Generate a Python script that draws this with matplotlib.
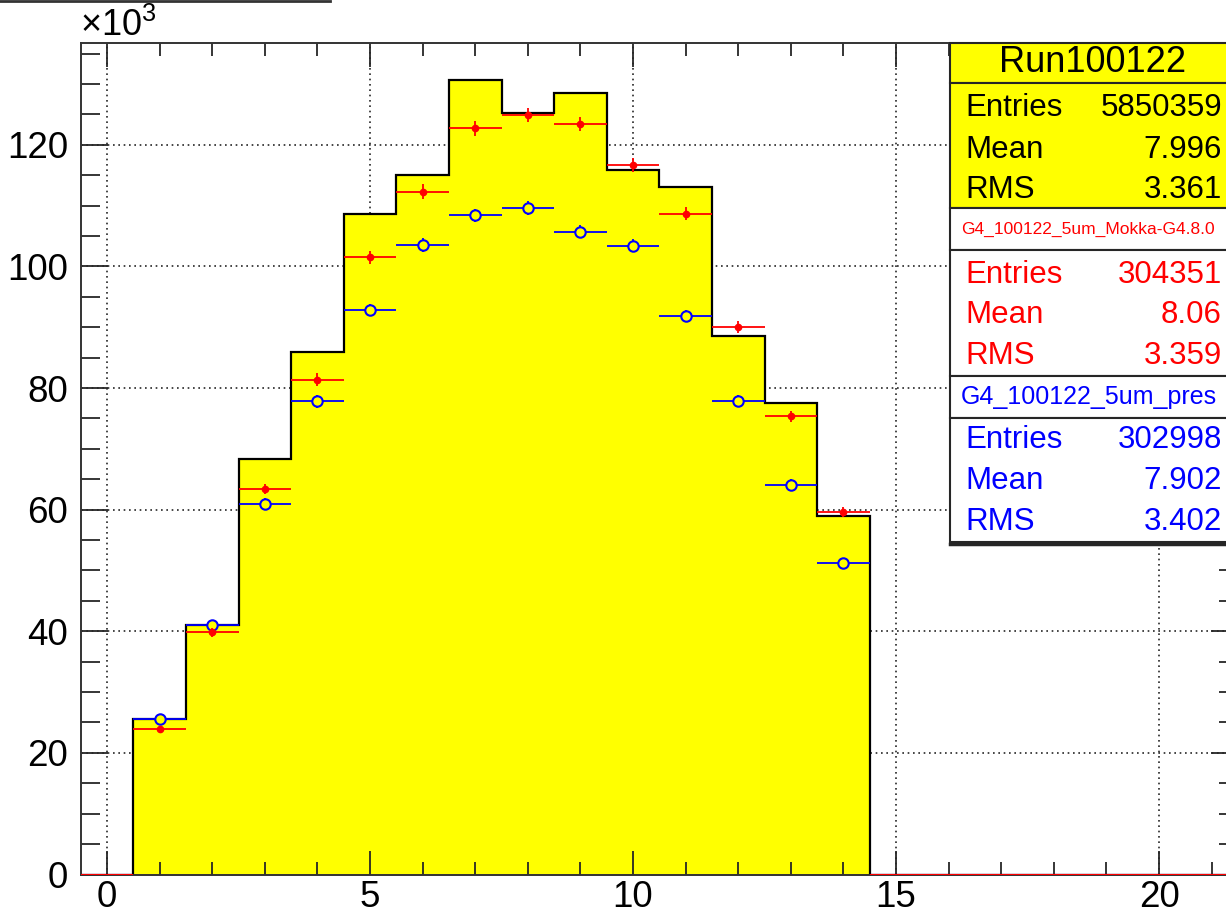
import numpy as np
import matplotlib
matplotlib.use("Agg")
import matplotlib.pyplot as plt
from matplotlib.ticker import MultipleLocator
from matplotlib.patches import Rectangle
from matplotlib.lines import Line2D

plt.rcParams['font.family'] = ['Liberation Sans', 'DejaVu Sans']
plt.rcParams['mathtext.fontset'] = 'custom'
plt.rcParams['mathtext.rm'] = 'Liberation Sans'

# bin contents in units of 10^3, bins centred on 1..14
bin_centers = [1, 2, 3, 4, 5, 6, 7, 8, 9, 10, 11, 12, 13, 14]
run_data = [25.5, 41.0, 68.3, 86.0, 108.7, 115.0, 130.6, 125.2, 128.5, 115.9, 113.1, 88.6, 77.5, 59.0]
mokka = [23.9, 39.8, 63.4, 81.4, 101.5, 112.3, 122.7, 124.9, 123.4, 116.7, 108.7, 90.1, 75.4, 59.6]
mokka_err = [0.6, 0.7, 0.9, 1.0, 1.1, 1.2, 1.2, 1.2, 1.2, 1.2, 1.1, 1.0, 0.9, 0.8]
pres = [25.5, 41.0, 61.0, 77.8, 92.8, 103.5, 108.4, 109.6, 105.7, 103.4, 91.9, 77.9, 64.1, 51.2]
pres_err = [0.6, 0.7, 0.9, 1.0, 1.0, 1.1, 1.1, 1.1, 1.1, 1.1, 1.0, 0.9, 0.9, 0.8]
empty_bins = [0, 15, 16, 17, 18, 19, 20, 21]

stats = {
    'data': ('Run100122', '5850359', '7.996', '3.361'),
    'mokka': ('G4_100122_5um_Mokka-G4.8.0', '304351', '8.06', '3.359'),
    'pres': ('G4_100122_5um_pres', '302998', '7.902', '3.402'),
}

W, H = 1226, 917
fig = plt.figure(figsize=(W / 100, H / 100), dpi=100)


def fx(x):
    return x / W


def fy(y):
    return 1 - y / H


ax = fig.add_axes([fx(80.7), fy(874.5), fx(1238 - 80.7), (874.5 - 42.7) / H])
ax.set_xlim(-0.5, 21.5)
ax.set_ylim(0, 136.8)

# dotted grid underneath the histogram
for gx in [0, 5, 10, 15, 20]:
    ax.axvline(gx, color='0.15', lw=1.2, ls=(0, (1, 2.2)), zorder=0.5)
for gy in [20, 40, 60, 80, 100, 120]:
    ax.axhline(gy, color='0.15', lw=1.2, ls=(0, (1, 2.2)), zorder=0.5)

edges = np.arange(-0.5, 22.5, 1.0)
full = np.zeros(len(edges) - 1)
full[bin_centers] = run_data
ax.stairs(full, edges, fill=True, color='#ffff00', zorder=1)
ax.stairs(full, edges, color='black', lw=1.6, zorder=1.2)

# empty bins still get their horizontal bars
for b in empty_bins:
    ax.hlines(0, b - 0.5, b + 0.5, color='blue', lw=1.5, zorder=3)
    ax.hlines(0, b - 0.5, b + 0.5, color='red', lw=1.5, zorder=3.5)

ax.errorbar(bin_centers, pres, yerr=pres_err, xerr=0.5, fmt='o', color='blue',
            mfc='#ffff00', mec='blue', mew=1.5, ms=7.5, elinewidth=1.3, capsize=0, zorder=3)
ax.errorbar(bin_centers, mokka, yerr=mokka_err, xerr=0.5, fmt='o', color='red',
            ms=4.5, elinewidth=1.3, capsize=0, zorder=3.5)

ax.xaxis.set_major_locator(MultipleLocator(5))
ax.xaxis.set_minor_locator(MultipleLocator(1))
ax.yaxis.set_major_locator(MultipleLocator(20))
ax.yaxis.set_minor_locator(MultipleLocator(5))
ax.tick_params(which='both', direction='in', top=True, right=True, width=1.3,
               labelsize=26.5, color='0.15')
ax.tick_params(axis='x', which='major', length=17, pad=4)
ax.tick_params(axis='x', which='minor', length=9.5)
ax.tick_params(axis='y', which='major', length=19.5, pad=9)
ax.tick_params(axis='y', which='minor', length=13.5)
for s in ax.spines.values():
    s.set_linewidth(1.4)
    s.set_color('0.2')

fig.text(fx(80), fy(36), '×10$\\mathregular{^3}$', fontsize=26, va='baseline', ha='left')

# cut-off edge of the title box
fig.add_artist(Line2D([0, fx(330)], [fy(1), fy(1)], color='0.2', lw=2))

# statistics boxes
box_l, box_r = 950, 1240
sections = [
    (42.7, 83, '#ffff00'),
    (83, 208, '#ffff00'),
    (208, 250, 'white'),
    (250, 376, 'white'),
    (376, 418, 'white'),
    (418, 542, 'white'),
]
for top, bot, fc in sections:
    fig.add_artist(Rectangle((fx(box_l), fy(bot)), fx(box_r - box_l), (bot - top) / H,
                             facecolor=fc, edgecolor='0.15', lw=1.5))
fig.add_artist(Line2D([fx(box_l), fx(box_r)], [fy(543.5), fy(543.5)], color='0.15', lw=2.5))

name, ent, mean, rms = stats['data']
fig.text(fx(1093), fy(63), name, fontsize=26, ha='center', va='center')


def stat_rows(vals, ys, color):
    for label, val, yy in zip(['Entries', 'Mean', 'RMS'], vals, ys):
        fig.text(fx(965), fy(yy), label, fontsize=22.5, color=color, ha='left', va='center')
        fig.text(fx(1222), fy(yy), val, fontsize=22.5, color=color, ha='right', va='center')


stat_rows([ent, mean, rms], [108, 150, 190], 'black')

name, ent, mean, rms = stats['mokka']
fig.text(fx(961), fy(229), name, fontsize=12.5, color='red', ha='left', va='center')
stat_rows([ent, mean, rms], [275, 315, 356], 'red')

name, ent, mean, rms = stats['pres']
fig.text(fx(961), fy(397), name, fontsize=18, color='blue', ha='left', va='center')
stat_rows([ent, mean, rms], [440, 481, 522], 'blue')

fig.savefig('out.png', dpi=100)
